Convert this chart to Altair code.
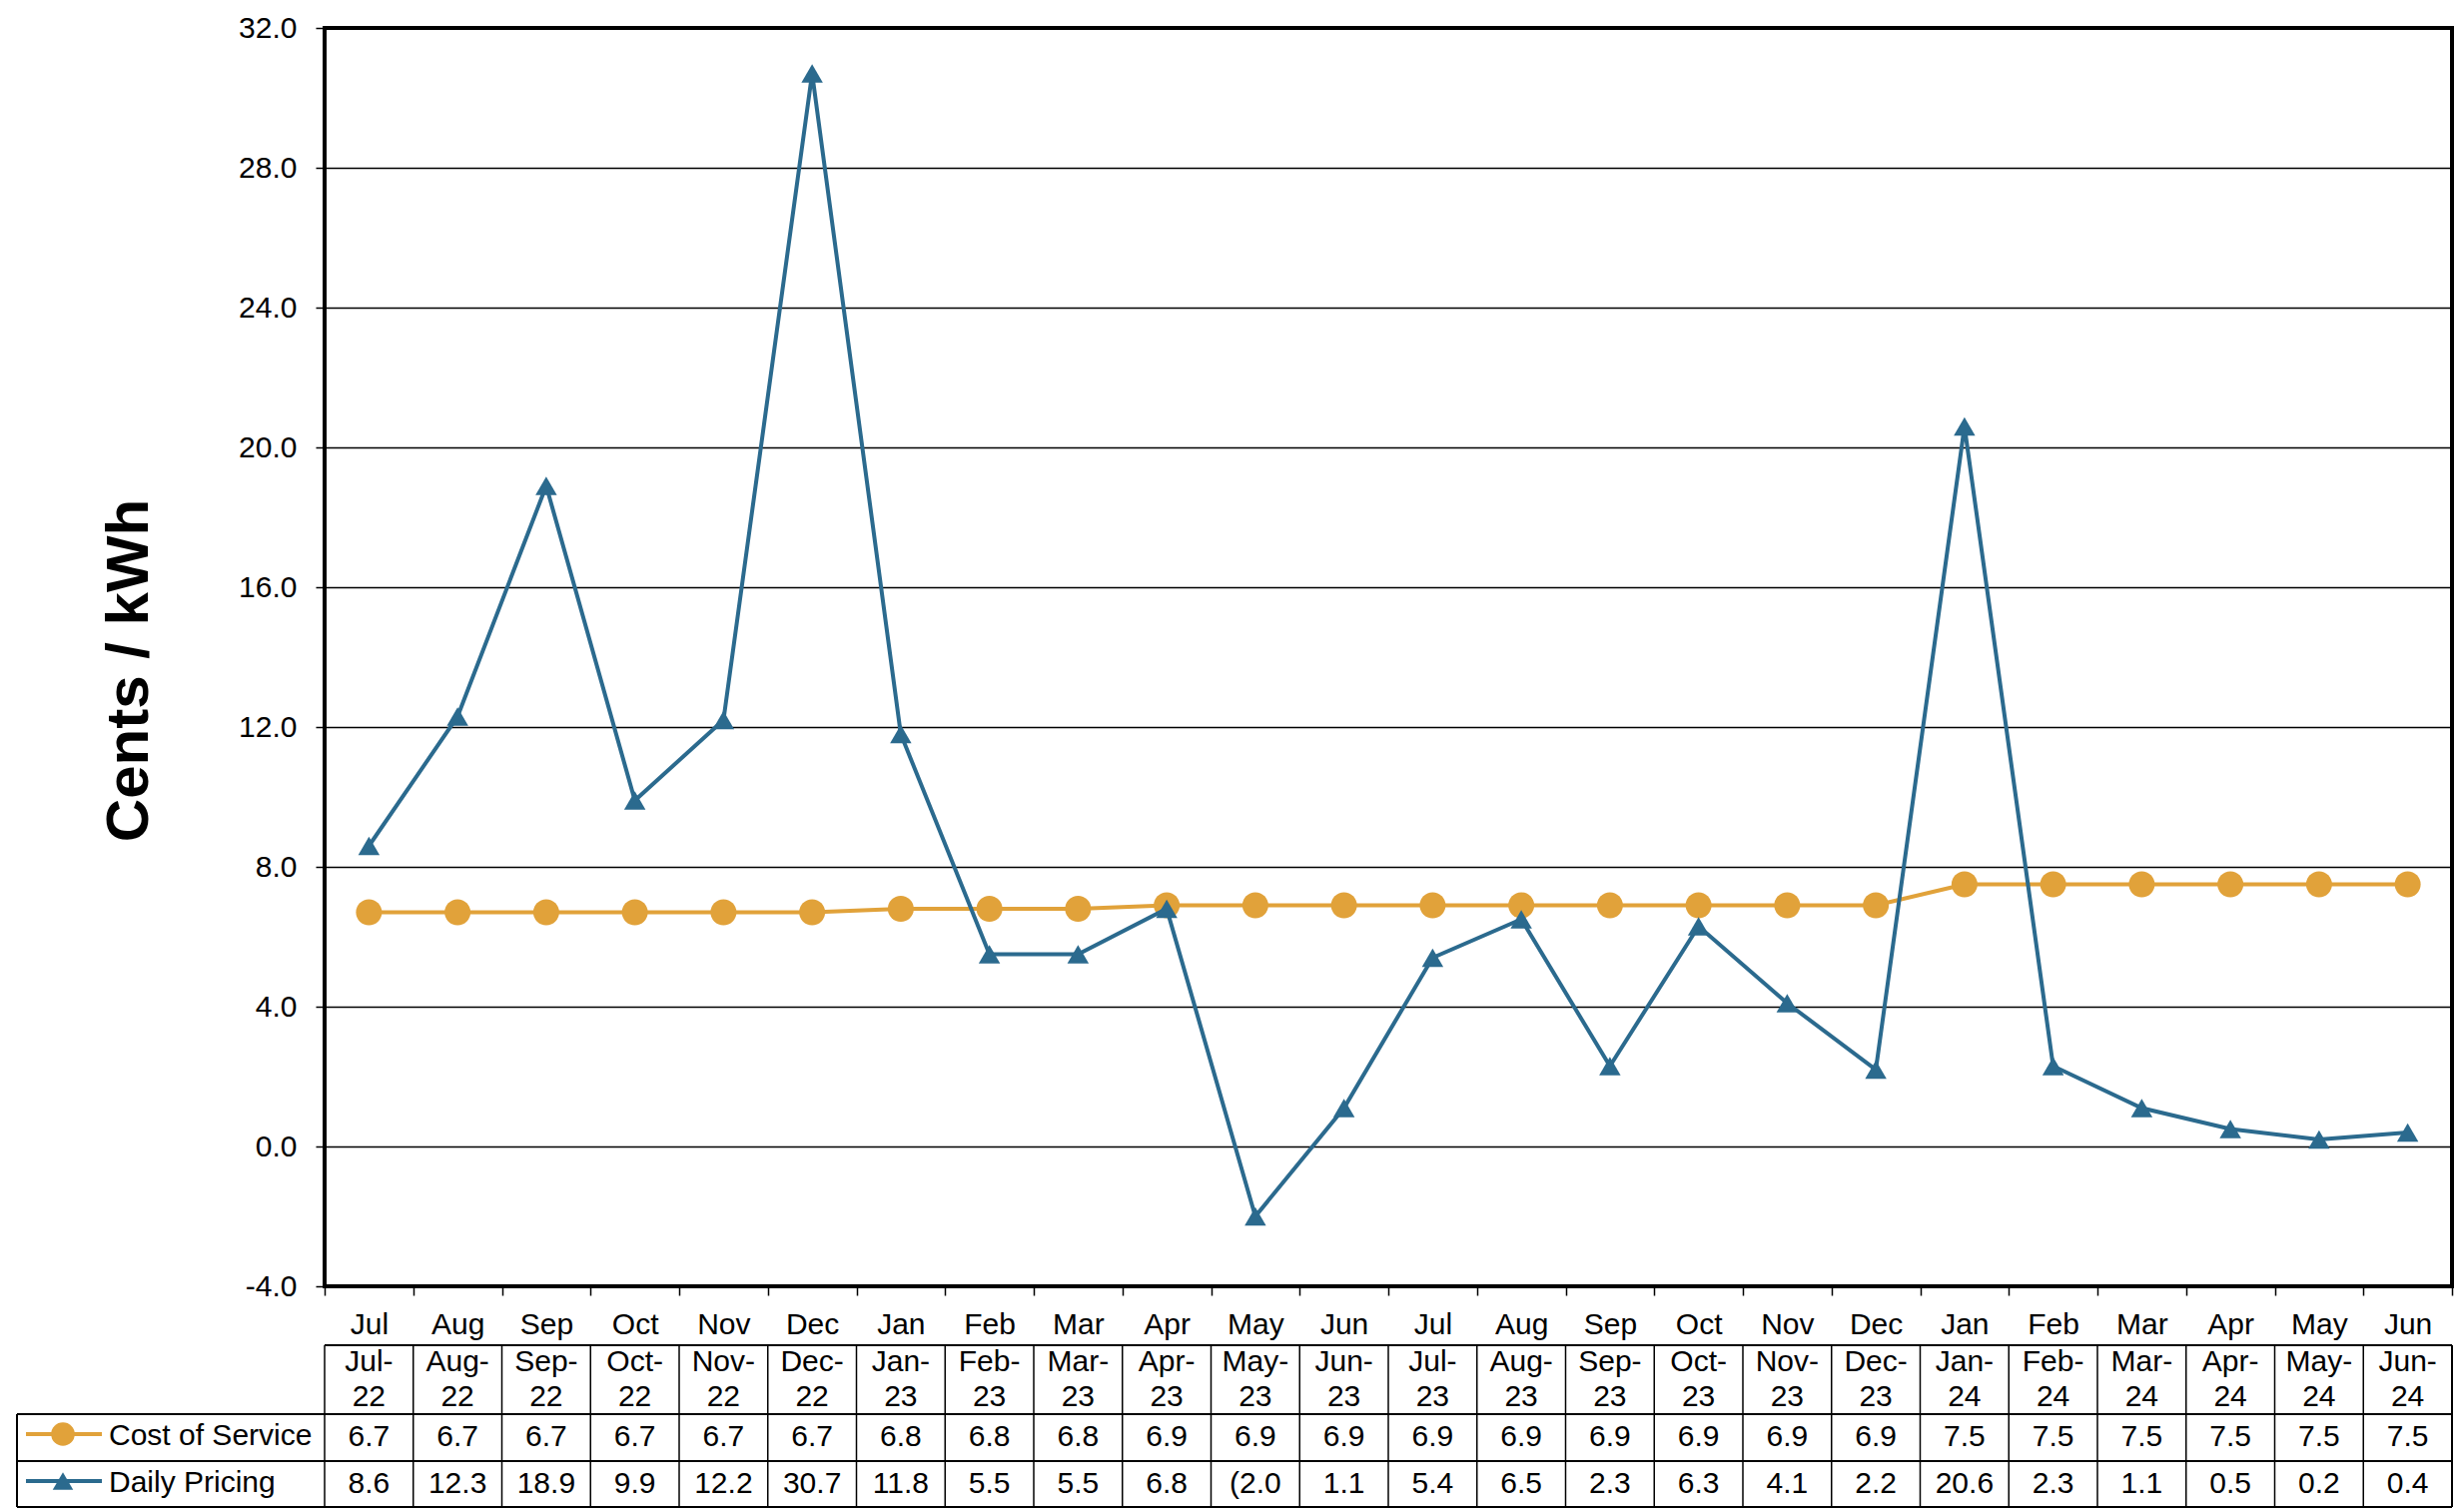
import altair as alt
import pandas as pd

periods = ["Jul-22", "Aug-22", "Sep-22", "Oct-22", "Nov-22", "Dec-22",
           "Jan-23", "Feb-23", "Mar-23", "Apr-23", "May-23", "Jun-23",
           "Jul-23", "Aug-23", "Sep-23", "Oct-23", "Nov-23", "Dec-23",
           "Jan-24", "Feb-24", "Mar-24", "Apr-24", "May-24", "Jun-24"]
cost_of_service = [6.7, 6.7, 6.7, 6.7, 6.7, 6.7,
                   6.8, 6.8, 6.8, 6.9, 6.9, 6.9,
                   6.9, 6.9, 6.9, 6.9, 6.9, 6.9,
                   7.5, 7.5, 7.5, 7.5, 7.5, 7.5]
daily_pricing = [8.6, 12.3, 18.9, 9.9, 12.2, 30.7,
                 11.8, 5.5, 5.5, 6.8, -2.0, 1.1,
                 5.4, 6.5, 2.3, 6.3, 4.1, 2.2,
                 20.6, 2.3, 1.1, 0.5, 0.2, 0.4]
y_ticks = [-4, 0, 4, 8, 12, 16, 20, 24, 28, 32]
series_names = ["Cost of Service", "Daily Pricing"]

ORANGE = "#E1A23A"
BLUE = "#2B6A8E"
FONT = "Liberation Sans"

W, H = 2130, 1260
LEFT, TOP = 325, 28

df = pd.DataFrame({"period": periods, "cost": cost_of_service, "daily": daily_pricing})

base = alt.Chart(df).transform_calculate(
    mon="split(datum.period, '-')[0] + '-'",
    yr="split(datum.period, '-')[1]",
    cost_txt="format(datum.cost, '.1f')",
    daily_txt="datum.daily < 0 ? '(' + format(-datum.daily, '.1f') : format(datum.daily, '.1f')",
)

xenc = alt.X(
    "period:N", sort=periods,
    scale=alt.Scale(paddingInner=0, paddingOuter=0),
    axis=alt.Axis(
        title=None,
        labelExpr="isValid(datum.value) && datum.value != '' ? split(datum.value, '-')[0] : ''",
        labelAngle=0,
        labelFontSize=30, labelFont=FONT, labelColor="black", labelPadding=14,
        tickBand="extent", tickSize=9, tickWidth=1.5, tickColor="black",
        domain=False, grid=False,
    ),
)
yenc = alt.Y(
    "cost:Q",
    scale=alt.Scale(domain=[-4, 32], nice=False, zero=False),
    axis=alt.Axis(
        values=y_ticks,
        labelExpr="(datum.value < 0 ? '-' : '') + format(abs(datum.value), '.1f')",
        labelFontSize=30, labelFont=FONT, labelColor="black", labelPadding=19,
        tickSize=9, tickWidth=1.5, tickColor="black",
        grid=True, gridColor="black", gridWidth=1.5, gridOpacity=1,
        domain=False,
        title="Cents / kWh", titleFont=FONT, titleFontSize=60, titleFontWeight="bold",
        titleColor="black", titleAngle=-90, titleX=-178, titleY=643,
        titleAlign="center", titleBaseline="alphabetic",
    ),
)

cost_line = base.mark_line(color=ORANGE, strokeWidth=4).encode(x=xenc, y=yenc)
cost_pts = base.mark_point(shape="circle", filled=True, size=676, color=ORANGE, opacity=1).encode(
    x=alt.X("period:N", sort=periods), y=alt.Y("cost:Q"))
daily_line = base.mark_line(color=BLUE, strokeWidth=4).encode(
    x=alt.X("period:N", sort=periods), y=alt.Y("daily:Q"))
daily_pts = base.mark_point(shape="triangle-up", filled=True, size=460, color=BLUE, opacity=1).encode(
    x=alt.X("period:N", sort=periods), y=alt.Y("daily:Q"))

# ---- data table below the plot ----
def ty(abs_y):
    return abs_y - TOP

txt = dict(fontSize=30, font=FONT, color="black", align="center", baseline="alphabetic")
hdr1 = base.mark_text(**txt).encode(x=alt.X("period:N", sort=periods), y=alt.value(ty(1373)), text="mon:N")
hdr2 = base.mark_text(**txt).encode(x=alt.X("period:N", sort=periods), y=alt.value(ty(1408)), text="yr:N")
row1 = base.mark_text(**txt).encode(x=alt.X("period:N", sort=periods), y=alt.value(ty(1448)), text="cost_txt:N")
row2 = base.mark_text(**txt).encode(x=alt.X("period:N", sort=periods), y=alt.value(ty(1495)), text="daily_txt:N")

vlines = base.mark_rule(color="black", strokeWidth=1.5).encode(
    x=alt.X("period:N", sort=periods, bandPosition=0),
    y=alt.value(ty(1347)), y2=alt.value(ty(1509)))

rule_style = dict(color="black", strokeWidth=1.8)
edge_r = alt.Chart(df).mark_rule(**rule_style).encode(x=alt.value(W), y=alt.value(ty(1347)), y2=alt.value(ty(1509)))
edge_l = alt.Chart(df).mark_rule(**rule_style).encode(x=alt.value(17 - LEFT), y=alt.value(ty(1416)), y2=alt.value(ty(1509)))
h0 = alt.Chart(df).mark_rule(**rule_style).encode(x=alt.value(0), x2=alt.value(W), y=alt.value(ty(1347)))
h1 = alt.Chart(df).mark_rule(**rule_style).encode(x=alt.value(17 - LEFT), x2=alt.value(W), y=alt.value(ty(1416)))
h2 = alt.Chart(df).mark_rule(**rule_style).encode(x=alt.value(17 - LEFT), x2=alt.value(W), y=alt.value(ty(1463)))
h3 = alt.Chart(df).mark_rule(**rule_style).encode(x=alt.value(17 - LEFT), x2=alt.value(W), y=alt.value(ty(1509)))

# legend keys inside the table
leg_df = pd.DataFrame({"name": series_names})
lg1 = alt.Chart(leg_df).transform_filter(alt.datum.name == series_names[0])
lg2 = alt.Chart(leg_df).transform_filter(alt.datum.name == series_names[1])
k1_line = lg1.mark_rule(color=ORANGE, strokeWidth=4).encode(
    x=alt.value(26 - LEFT), x2=alt.value(102 - LEFT), y=alt.value(ty(1436)))
k1_pt = lg1.mark_point(shape="circle", filled=True, size=560, color=ORANGE, opacity=1).encode(
    x=alt.value(63 - LEFT), y=alt.value(ty(1436)))
k1_txt = lg1.mark_text(fontSize=30, font=FONT, color="black", align="left", baseline="alphabetic").encode(
    x=alt.value(109 - LEFT), y=alt.value(ty(1447)), text="name:N")
k2_line = lg2.mark_rule(color=BLUE, strokeWidth=4).encode(
    x=alt.value(26 - LEFT), x2=alt.value(102 - LEFT), y=alt.value(ty(1483)))
k2_pt = lg2.mark_point(shape="triangle-up", filled=True, size=420, color=BLUE, opacity=1).encode(
    x=alt.value(63 - LEFT), y=alt.value(ty(1483)))
k2_txt = lg2.mark_text(fontSize=30, font=FONT, color="black", align="left", baseline="alphabetic").encode(
    x=alt.value(109 - LEFT), y=alt.value(ty(1494)), text="name:N")

chart = alt.layer(
    cost_line, cost_pts, daily_line, daily_pts,
    hdr1, hdr2, row1, row2, vlines, edge_r, edge_l, h0, h1, h2, h3,
    k1_line, k1_pt, k1_txt, k2_line, k2_pt, k2_txt,
).properties(
    width=W, height=H,
    autosize=alt.AutoSizeParams(type="none"),
    padding={"left": LEFT, "top": TOP, "right": 5, "bottom": 226},
    background="white",
).configure_view(
    stroke="black", strokeWidth=4,
)

chart.save("out.html", embed_options={"renderer": "svg", "actions": False})
